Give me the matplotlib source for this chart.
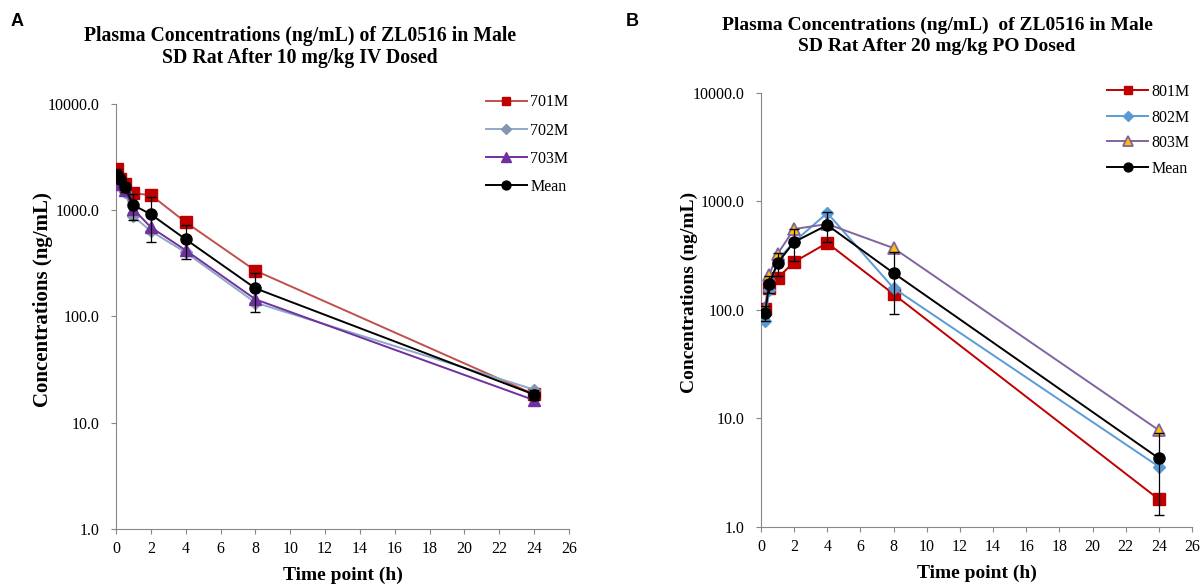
import numpy as np
import matplotlib.pyplot as plt
from matplotlib.ticker import FixedLocator, FixedFormatter

# IV dosing, 10 mg/kg
iv_time = [0.083, 0.25, 0.5, 1, 2, 4, 8, 24]
iv_701m = [2450, 1960, 1760, 1440, 1390, 770, 270, 18.5]
iv_702m = [1900, 1700, 1500, 875, 635, 400, 135, 20.5]
iv_703m = [1930, 1750, 1550, 1020, 690, 420, 145, 16.3]
iv_mean = [2140, 1950, 1650, 1115, 915, 532, 184, 18.4]
iv_sd = [290, 150, 150, 300, 415, 187, 75, 2.1]

# PO dosing, 20 mg/kg
po_time = [0.25, 0.5, 1, 2, 4, 8, 24]
po_801m = [102, 160, 197, 277, 415, 140, 1.8]
po_802m = [79, 153, 288, 425, 784, 159, 3.6]
po_803m = [104, 210, 328, 557, 620, 372, 7.8]
po_mean = [94, 174, 271, 423, 607, 219, 4.3]
po_sd = [14, 30, 66, 140, 185, 127, 3.0]

plt.rcParams['font.family'] = ['Liberation Serif', 'DejaVu Serif']

fig = plt.figure(figsize=(12.01, 5.86), dpi=100)
ax1 = fig.add_axes([0.0966, 0.0973, 0.3772, 0.7253])
ax2 = fig.add_axes([0.6336, 0.1007, 0.3589, 0.7406])

GREY = '#888888'


def style_axis(ax, ylab_pos, ylab_size, xlab_y):
    ax.set_yscale('log')
    ax.set_ylim(1, 10000)
    ax.set_xlim(0, 26)
    ax.yaxis.set_major_locator(FixedLocator([1, 10, 100, 1000, 10000]))
    ax.yaxis.set_major_formatter(FixedFormatter(['1.0', '10.0', '100.0', '1000.0', '10000.0']))
    ax.yaxis.set_minor_locator(FixedLocator([]))
    ax.set_xticks(range(0, 27, 2))
    for s in ['top', 'right']:
        ax.spines[s].set_visible(False)
    for s in ['left', 'bottom']:
        ax.spines[s].set_color(GREY)
    ax.tick_params(colors=GREY, labelcolor='black', labelsize=11.5, length=3.5)
    ax.tick_params(axis='y', pad=8.5)
    ax.tick_params(axis='x', pad=5.5)
    ax.set_xlabel('Time point (h)', fontsize=14, fontweight='bold')
    ax.set_ylabel('Concentrations (ng/mL)', fontsize=ylab_size, fontweight='bold')
    ax.yaxis.set_label_coords(*ylab_pos)
    ax.xaxis.set_label_coords(0.5, xlab_y)


def draw_mean(ax, t, m, sd):
    ax.errorbar(t, m, yerr=sd, fmt='none', ecolor='black', elinewidth=0.9,
                capsize=3.5, zorder=4)
    ax.plot(t, m, color='black', lw=1.4, marker='o', ms=8, label='Mean', zorder=5)


# panel A
ax1.plot(iv_time, iv_701m, color='#C0504D', lw=1.4, marker='s', ms=8,
         mfc='#C00000', mec='#C00000', label='701M', zorder=3)
ax1.plot(iv_time, iv_702m, color='#8EA9C8', lw=1.4, marker='D', ms=6.5,
         mfc='#8497B0', mec='#8497B0', label='702M', zorder=3)
ax1.plot(iv_time, iv_703m, color='#7030A0', lw=1.4, marker='^', ms=8.5,
         mfc='#7030A0', mec='#7030A0', label='703M', zorder=3)
draw_mean(ax1, iv_time, iv_mean, iv_sd)
style_axis(ax1, (-0.139, 0.539), 15, -0.089)
ax1.legend(loc='upper right', bbox_to_anchor=(1.02, 1.045), frameon=False, fontsize=11.5,
           handlelength=2.6, labelspacing=0.76, borderaxespad=0.2, handletextpad=0.2,
           markerscale=0.8)

# panel B
ax2.plot(po_time, po_801m, color='#C00000', lw=1.4, marker='s', ms=8,
         mfc='#C00000', mec='#C00000', label='801M', zorder=3)
ax2.plot(po_time, po_802m, color='#5B9BD5', lw=1.4, marker='D', ms=6.5,
         mfc='#5B9BD5', mec='#5B9BD5', label='802M', zorder=3)
ax2.plot(po_time, po_803m, color='#8064A2', lw=1.4, marker='^', ms=8.5,
         mfc='#FFC000', mec='#8064A2', mew=1.3, label='803M', zorder=3)
draw_mean(ax2, po_time, po_mean, po_sd)
style_axis(ax2, (-0.145, 0.541), 14, -0.087)
ax2.legend(loc='upper right', bbox_to_anchor=(1.017, 1.043), frameon=False, fontsize=11.5,
           handlelength=2.6, labelspacing=0.6, borderaxespad=0.2, handletextpad=0.2,
           markerscale=0.8)

fig.text(300 / 1201, 1 - 47 / 586, 'Plasma Concentrations (ng/mL) of ZL0516 in Male\nSD Rat After 10 mg/kg IV Dosed',
         ha='center', va='center', fontsize=14.2, fontweight='bold', linespacing=1.2)
fig.text(937 / 1201, 1 - 35.5 / 586, 'Plasma Concentrations (ng/mL)  of ZL0516 in Male\nSD Rat After 20 mg/kg PO Dosed',
         ha='center', va='center', fontsize=14, fontweight='bold', linespacing=1.3)

fig.text(0.009, 0.955, 'A', fontsize=13, fontweight='bold', family='Liberation Sans')
fig.text(0.521, 0.955, 'B', fontsize=13, fontweight='bold', family='Liberation Sans')

fig.savefig('out.png', dpi=100)
